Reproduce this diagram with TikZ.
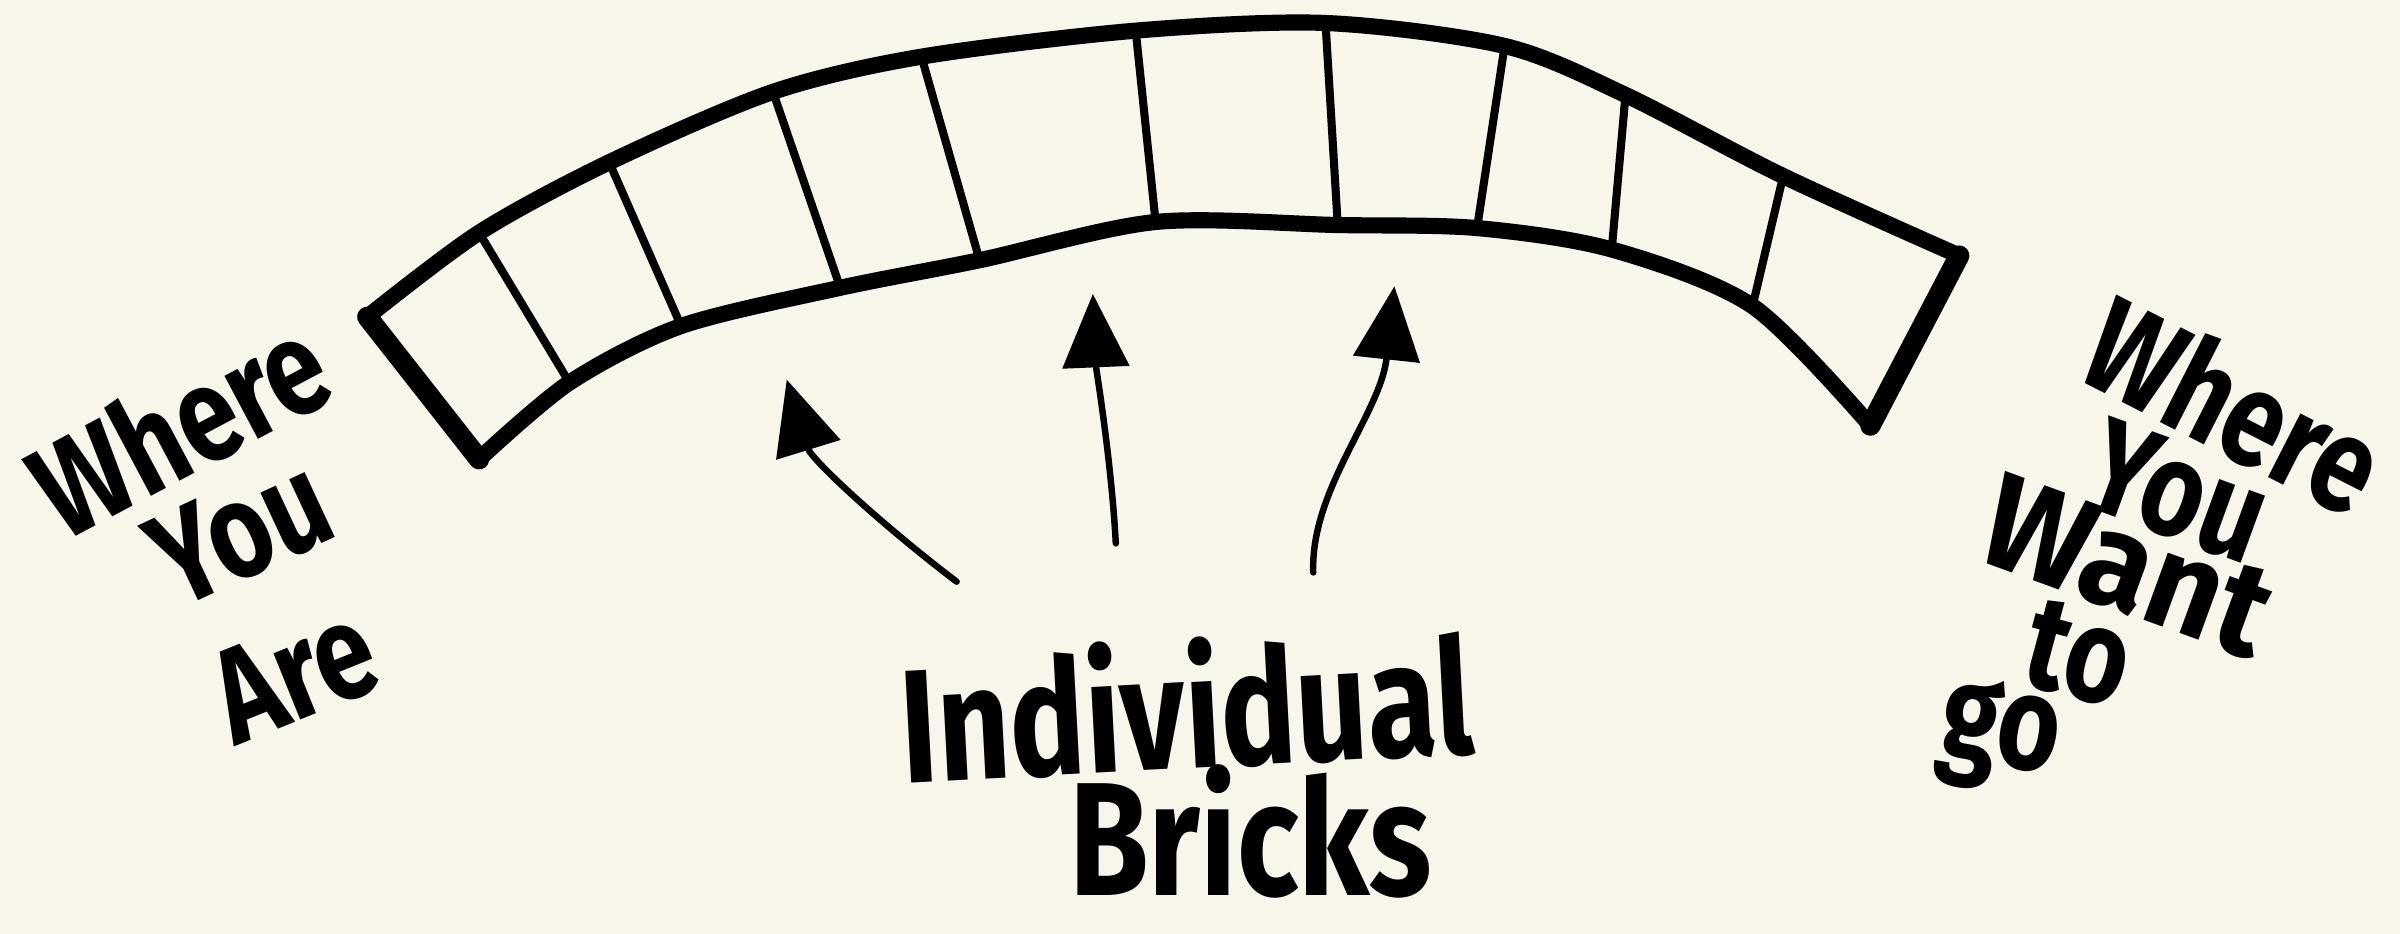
\documentclass[tikz,border=0pt]{standalone}
\usepackage{fontspec}
\usepackage{graphicx}
\setmainfont{Fira Sans}
\usetikzlibrary{arrows.meta}
\definecolor{paper}{RGB}{248,246,234}
\newcommand{\narrowtext}[1]{\scalebox{0.8}[1]{#1}}

\begin{document}
\begin{tikzpicture}[x=0.1mm, y=-0.1mm,
    archline/.style={line width=3pt, line join=round, line cap=round},
    endline/.style={line width=3.8pt, line cap=round},
    joint/.style={line width=1.5pt, line cap=round},
    brickarrow/.style={line width=1.2pt, line cap=round, -{Triangle[length=4.8mm, width=4.3mm]}},
    bigword/.style={font=\bfseries\fontsize{30}{30}\selectfont, inner sep=0pt},
    sideword/.style={font=\bfseries\fontsize{25}{25}\selectfont, inner sep=0pt}]

    \fill[paper] (0,0) rectangle (1568,610);
    \useasboundingbox (0,0) rectangle (1568,610);

    % Outer edge of the arch
    \draw[archline] plot[smooth, tension=0.5] coordinates {(240,207) (313,152) (398,106) (505,60) (602,37) (742,20) (866,15) (983,30) (1062,62) (1165,115) (1280,167)};
    % Inner edge of the arch
    \draw[archline] plot[smooth, tension=0.5] coordinates {(313,300) (372,250) (445,213) (549,188) (640,170) (755,145) (874,147) (965,149) (1053,163) (1145,200) (1222,278)};

    % Ends
    \draw[endline] (240,207) -- (313,300);
    \draw[endline] (1280,167) -- (1222,278);

    % Joints between the bricks
    \foreach \xa/\ya/\xb/\yb in {313/152/372/250, 398/106/445/213, 505/60/549/188, 602/37/640/170,
        742/20/755/145, 866/15/874/147, 983/30/965/149, 1062/62/1053/163, 1165/115/1145/200}
        \draw[joint] (\xa,\ya) -- (\xb,\yb);

    % Arrows
    \coordinate (tail1) at (625,380);
    \coordinate (tip1) at (514,248);
    \coordinate (tail2) at (729,355);
    \coordinate (tip2) at (714,192);
    \coordinate (tail3) at (858,374);
    \coordinate (tip3) at (911,187);
    \draw[brickarrow] (tail1) .. controls (575,342) and (530,300) .. (tip1);
    \draw[brickarrow] (tail2) .. controls (726,300) and (716,240) .. (tip2);
    \draw[brickarrow] (tail3) .. controls (856,320) and (902,270) .. (tip3);

    % Labels
    \node[bigword, rotate=3] (individual) at (775,460) {\scalebox{0.78}[1]{Individual}};
    \node[bigword] (bricks) at (817,543) {\narrowtext{Bricks}};

    \node[sideword, rotate=28] (where1) at (117,278) {\narrowtext{Where}};
    \node[sideword, rotate=25] (you1) at (157,347) {\narrowtext{You}};
    \node[sideword, rotate=22] (are) at (192,440) {\narrowtext{Are}};

    \node[sideword, rotate=-27] (where2) at (1460,264) {\narrowtext{Where}};
    \node[sideword, rotate=-20] (you2) at (1423,321) {\narrowtext{You}};
    \node[sideword, rotate=-20] (want) at (1390,370) {\scalebox{0.95}[1]{Want}};
    \node[sideword, rotate=-15] (to) at (1358,427) {\narrowtext{to}};
    \node[sideword, rotate=-10] (go) at (1306,482) {\narrowtext{go}};
\end{tikzpicture}
\end{document}
